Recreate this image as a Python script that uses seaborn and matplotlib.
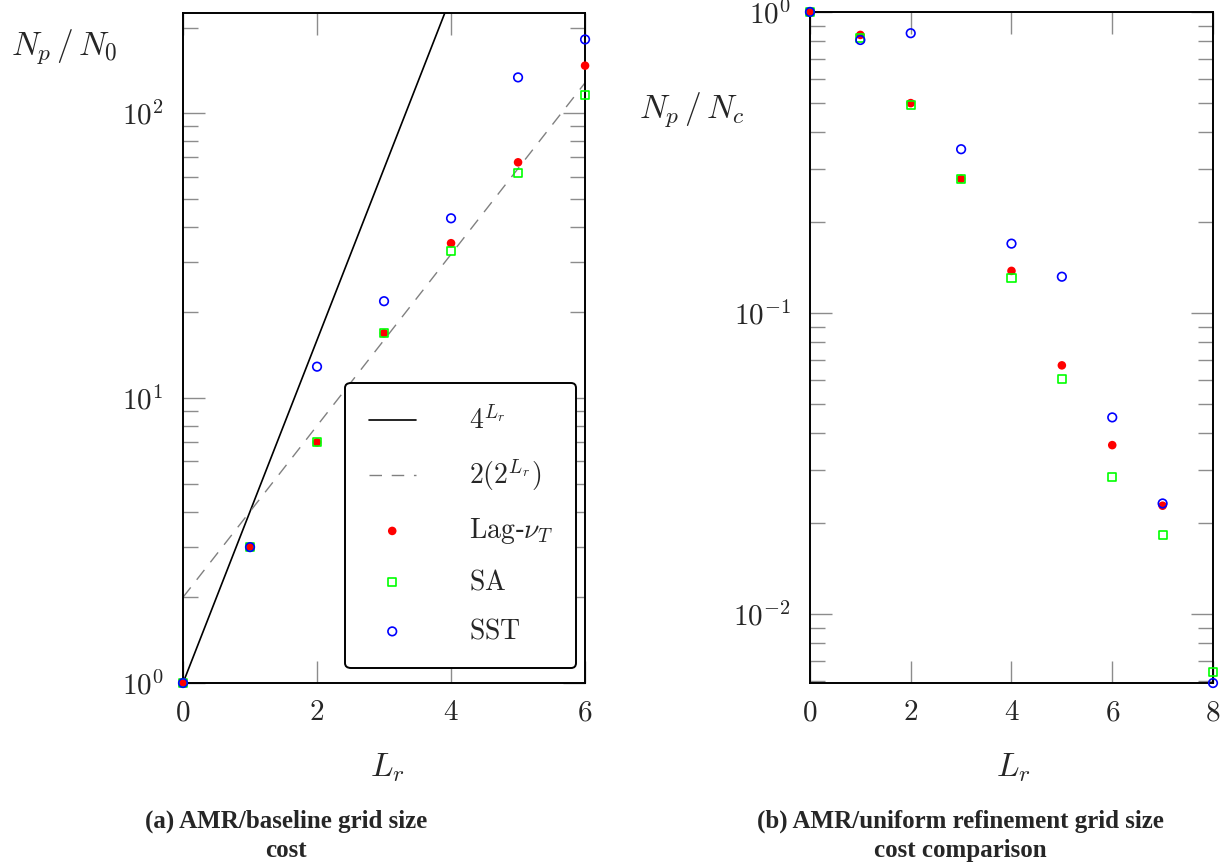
import numpy as np
import pandas as pd
import matplotlib
matplotlib.use("Agg")
import matplotlib.pyplot as plt
import seaborn as sns

# ---- data ----
# (a) AMR / baseline grid size
lr_a = [0, 1, 2, 3, 4, 5, 6]
lag_a = [1.0, 3.0, 7.0, 16.9, 35.0, 67.3, 147.0]
sa_a = [1.0, 3.0, 7.0, 16.9, 32.8, 61.6, 115.7]
sst_a = [1.0, 3.0, 12.9, 21.9, 42.8, 133.7, 181.7]

# reference curves 4^Lr and 2(2^Lr)
lr_ref = [0, 1, 2, 3, 4, 5, 6]
four_pow = [1, 4, 16, 64, 256, 1024, 4096]
two_pow = [2, 4, 8, 16, 32, 64, 128]

# (b) AMR / uniform refinement grid size
lr_lag_b = [0, 1, 2, 3, 4, 5, 6, 7]
lag_b = [1.0, 0.839, 0.498, 0.279, 0.138, 0.067, 0.0364, 0.0229]
lr_b = [0, 1, 2, 3, 4, 5, 6, 7, 8]
sa_b = [1.0, 0.82, 0.49, 0.279, 0.131, 0.0605, 0.0286, 0.0183, 0.0064]
sst_b = [1.0, 0.807, 0.85, 0.35, 0.17, 0.132, 0.045, 0.0233, 0.0059]

ytick_a = [1, 10, 100]
ytick_a_labels = [r"$10^{0}$", r"$10^{1}$", r"$10^{2}$"]
ytick_b = [0.01, 0.1, 1]
ytick_b_labels = [r"$10^{-2}$", r"$10^{-1}$", r"$10^{0}$"]
xtick_a = [0, 2, 4, 6]
xtick_b = [0, 2, 4, 6, 8]

sns.set_style("white")
plt.rcParams["mathtext.fontset"] = "cm"
plt.rcParams["font.family"] = ["DejaVu Serif"]

RED, GREEN, BLUE = "#ff0000", "#00ff00", "#0000ff"
FS = 21      # tick labels
LFS = 20     # legend
AFS = 24     # axis labels

fig = plt.figure(figsize=(12.25, 8.67), dpi=100)
ax1 = fig.add_axes([0.1494, 0.2122, 0.3282, 0.7728])
ax2 = fig.add_axes([0.6612, 0.2122, 0.3290, 0.7740])


def style_axes(ax, xticks, yticks, ylabels):
    ax.set_yscale("log")
    ax.set_xticks(xticks)
    ax.set_xticklabels([rf"${t}$" for t in xticks], fontsize=FS)
    ax.set_yticks(yticks)
    ax.set_yticklabels(ylabels, fontsize=FS)
    ax.tick_params(which="both", direction="in", top=True, right=True,
                   bottom=True, left=True, color="#8c8c8c", width=1.0)
    ax.tick_params(which="major", length=16)
    ax.tick_params(which="minor", length=11)
    ax.tick_params(axis="x", pad=11)
    ax.tick_params(axis="y", pad=14)
    for s in ax.spines.values():
        s.set_color("black")
        s.set_linewidth(1.4)
    ax.set_xlabel("")
    ax.set_ylabel("")


# ---- (a) ----
sns.lineplot(x=lr_ref, y=four_pow, ax=ax1, color="black", lw=1.2,
             label=r"$4^{L_r}$")
sns.lineplot(x=lr_ref, y=two_pow, ax=ax1, color="#808080", lw=1.0,
             dashes=False, label=r"$2(2^{L_r})$")
ax1.lines[1].set_dashes((9, 7))
sns.scatterplot(x=lr_a, y=lag_a, ax=ax1, marker="o", s=38, color=RED,
                edgecolor="none", label=r"$\mathrm{Lag}$-$\nu_T$",
                clip_on=False, zorder=3)
sns.scatterplot(x=lr_a, y=sa_a, ax=ax1, marker="s", s=34, facecolor="none",
                edgecolor=GREEN, linewidth=1.2, label=r"$\mathrm{SA}$",
                clip_on=False, zorder=3)
sns.scatterplot(x=lr_a, y=sst_a, ax=ax1, marker="o", s=38, facecolor="none",
                edgecolor=BLUE, linewidth=1.2, label=r"$\mathrm{SST}$",
                clip_on=False, zorder=3)
style_axes(ax1, xtick_a, ytick_a, ytick_a_labels)
ax1.set_xlim(0, 6)
ax1.set_ylim(1, 225)
leg = ax1.legend(loc="lower right", bbox_to_anchor=(0.978, 0.022),
                 fontsize=LFS, frameon=True, fancybox=True, framealpha=1,
                 edgecolor="black", labelspacing=0.8, handlelength=1.7,
                 borderpad=0.85, handletextpad=1.9, borderaxespad=0)
leg.get_frame().set_linewidth(1.4)

# ---- (b) ----
sns.scatterplot(x=lr_lag_b, y=lag_b, ax=ax2, marker="o", s=38, color=RED,
                edgecolor="none", clip_on=False, zorder=3)
sns.scatterplot(x=lr_b, y=sa_b, ax=ax2, marker="s", s=34, facecolor="none",
                edgecolor=GREEN, linewidth=1.2, clip_on=False, zorder=3)
sns.scatterplot(x=lr_b, y=sst_b, ax=ax2, marker="o", s=38, facecolor="none",
                edgecolor=BLUE, linewidth=1.2, clip_on=False, zorder=3)
style_axes(ax2, xtick_b, ytick_b, ytick_b_labels)
ax2.set_xlim(0, 8)
ax2.set_ylim(0.0059, 1.0)

# axis labels placed like the original
fig.text(64 / 1225, 1 - 47 / 867, r"$N_p\,/\,N_0$", fontsize=AFS,
         ha="center", va="center")
fig.text(692 / 1225, 1 - 110 / 867, r"$N_p\,/\,N_c$", fontsize=AFS,
         ha="center", va="center")
fig.text(387 / 1225, 1 - 768 / 867, r"$L_r$", fontsize=AFS,
         ha="center", va="center")
fig.text(1013 / 1225, 1 - 768 / 867, r"$L_r$", fontsize=AFS,
         ha="center", va="center")

# captions
cap = dict(fontsize=18, fontweight="bold", family="Liberation Serif",
           ha="center", va="center", linespacing=1.32)
fig.text(286 / 1225, 1 - 836 / 867, "(a) AMR/baseline grid size\ncost", **cap)
fig.text(960 / 1225, 1 - 836 / 867,
         "(b) AMR/uniform refinement grid size\ncost comparison", **cap)

fig.savefig("out.png", dpi=100)
